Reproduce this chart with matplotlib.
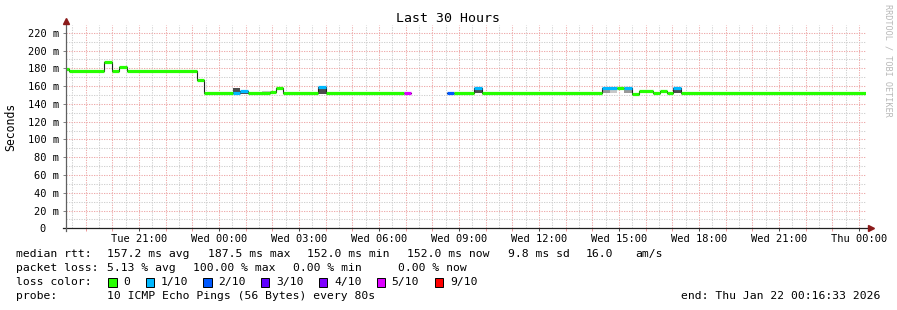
import numpy as np
import matplotlib
matplotlib.use("Agg")
import matplotlib.pyplot as plt
from matplotlib.patches import Rectangle

# time axis: hours since Tue 00:00, 30 hour window ending Thu 00:16:33
t_start = 18.276
t_end = 48.276

# median rtt (ms) as steps between edges, loss bucket per step (-1 = no data)
t_edges = [18.276, 18.386, 19.699, 19.976, 20.261, 20.539, 23.186, 23.449, 24.525,
           24.788, 25.088, 25.913, 26.126, 26.4, 27.724, 28.013, 30.938, 31.2,
           32.539, 32.813, 33.563, 33.844, 38.374, 38.925, 39.169, 39.476, 39.761,
           40.264, 40.538, 40.811, 41.036, 41.314, 48.276]
median_ms = [179, 177, 187.5, 177, 182, 177, 166.5, 152, 152, 154, 152, 153, 157.5,
             152, 158.7, 152, 152, np.nan, 152, 152, 157.3, 152, 158.3, 157.4, 158.3,
             151.5, 154.4, 152, 154, 152, 158.3, 152]
loss_idx = [0, 0, 0, 0, 0, 0, 0, 0, 1, 1, 0, 0, 0, 0, 1, 0, 5, -1, 2, 0, 1, 0, 1, 0, 1,
            0, 0, 0, 0, 0, 1, 0]

# smoke (spread of the individual pings)
smoke_t0 = [24.525, 24.788, 25.601, 27.724, 33.563, 38.374, 38.65, 39.169, 41.036]
smoke_t1 = [24.788, 25.088, 26.126, 28.013, 33.844, 38.65, 38.925, 39.476, 41.314]
smoke_lo = [152, 151.5, 152, 151, 152, 152.5, 152.5, 152.5, 152]
smoke_hi = [158, 153, 154.7, 157.5, 156, 157.5, 157.5, 157.5, 157]
smoke_shade = ['#4d4d4d', '#4d4d4d', '#c8c8c8', '#4d4d4d', '#4d4d4d', '#999999',
               '#c8c8c8', '#9a9a9a', '#4d4d4d']

loss_labels = ['0', '1/10', '2/10', '3/10', '4/10', '5/10', '9/10']
loss_colors = ['#26ff00', '#00b8ff', '#0059ff', '#5e00ff', '#7e00ff', '#dd00ff', '#ff0000']

x_major = [21, 24, 27, 30, 33, 36, 39, 42, 45, 48]
x_major_labels = ['Tue 21:00', 'Wed 00:00', 'Wed 03:00', 'Wed 06:00', 'Wed 09:00',
                  'Wed 12:00', 'Wed 15:00', 'Wed 18:00', 'Wed 21:00', 'Thu 00:00']
y_major = [0, 20, 40, 60, 80, 100, 120, 140, 160, 180, 200, 220]

stats_rtt = [('median rtt:', 16), ('157.2 ms avg', 107.3), ('187.5 ms max', 207.7),
             ('152.0 ms min', 306.7), ('152.0 ms now', 407.3), ('9.8 ms sd', 508.3),
             ('16.0', 586), ('am/s', 635)]
stats_loss = [('packet loss:', 16), ('5.13 % avg', 107.3), ('100.00 % max', 193.3),
              ('0.00 % min', 293.3), ('0.00 % now', 398.3)]
loss_box_x = [108.3, 145.7, 203.3, 261, 319, 376.7, 435]

W, H = 897, 310
MONO = 'DejaVu Sans Mono'
plt.rcParams['font.family'] = MONO

fig = plt.figure(figsize=(W / 100, H / 100), dpi=100, facecolor='white')
px_per_ms = 0.8889
ax_left, ax_bottom_px, ax_top_px = 66.4, 228.3, 25.0
ax = fig.add_axes([ax_left / W, (H - ax_bottom_px) / H, 800 / W,
                   (ax_bottom_px - ax_top_px) / H])
ax.set_xlim(t_start, t_end)
ax.set_ylim(0, (ax_bottom_px - ax_top_px) / px_per_ms)
for s in ax.spines.values():
    s.set_visible(False)

# grid
minor_c, major_c = '#d0d0d0', '#eeaaaa'
dots = (0, (1.2, 1.2))
for h in np.arange(18.5, t_end, 0.5):
    c = major_c if abs(h - round(h)) < 1e-6 else minor_c
    ax.axvline(h, color=c, lw=0.75, ls=dots, zorder=0)
for v in range(10, 230, 10):
    c = major_c if v % 20 == 0 else minor_c
    ax.axhline(v, color=c, lw=0.75, ls=dots, zorder=0)

# smoke
ax.bar(smoke_t0, np.array(smoke_hi) - np.array(smoke_lo),
       width=np.array(smoke_t1) - np.array(smoke_t0), bottom=smoke_lo,
       align='edge', color=smoke_shade, lw=0, zorder=2)

# thin median line then coloured loss bands
ax.step(t_edges, list(median_ms) + [median_ms[-1]], where='post',
        color='#202020', lw=0.8, zorder=3)
med = np.array(median_ms, dtype=float)
ok = ~np.isnan(med)
cols = [loss_colors[i] for i, k in zip(loss_idx, ok) if k]
ax.hlines(med[ok], np.array(t_edges[:-1])[ok], np.array(t_edges[1:])[ok],
          colors=cols, lw=2.3, zorder=4)

# ticks
ax.set_xticks(x_major, x_major_labels)
ax.set_xticks(range(19, 49), minor=True)
ax.tick_params(axis='x', which='major', length=2.5, width=0.7, color='#404040',
               pad=1.5, labelsize=7.5)
ax.tick_params(axis='x', which='minor', length=2, width=0.7, color='#ee9999')
ax.set_yticks(y_major, [f'{v} m' if v else '0  ' for v in y_major])
ax.tick_params(axis='y', length=2.5, width=0.7, color='#808080', pad=3,
               labelsize=7.5)

# axis lines with arrows
ax.plot([-0.004, 1.004], [0, 0], transform=ax.transAxes, color='#202020',
        lw=0.9, clip_on=False, zorder=5)
ax.plot([0, 0], [-0.012, 1.01], transform=ax.transAxes, color='#606060',
        lw=0.9, clip_on=False, zorder=5)
ax.plot([1.006], [0], marker='>', ms=4, color='#8b1a1a', transform=ax.transAxes,
        clip_on=False, zorder=6)
ax.plot([0], [1.02], marker='^', ms=4, color='#8b1a1a', transform=ax.transAxes,
        clip_on=False, zorder=6)

ax.set_ylabel('Seconds', fontsize=8.3, va='center')
ax.yaxis.set_label_coords(-(ax_left - 11) / 800, 0.5)


def fx(px):
    return px / W


def fy(py):
    return 1 - py / H


fig.text(fx(448), fy(19), 'Last 30 Hours', ha='center', va='center', fontsize=9.5)
fig.text(fx(888), fy(60), 'RRDTOOL / TOBI OETIKER', rotation=270, ha='center',
         va='center', fontsize=6.1, color='#b8b8b8')

fs = 8.2
for txt, x in stats_rtt:
    fig.text(fx(x), fy(254.3), txt, va='center', fontsize=fs)
for txt, x in stats_loss:
    fig.text(fx(x), fy(268.3), txt, va='center', fontsize=fs)
fig.text(fx(16), fy(282.3), 'loss color:', va='center', fontsize=fs)
for lbl, col, x in zip(loss_labels, loss_colors, loss_box_x):
    fig.patches.append(Rectangle((fx(x), fy(286.5)), 8.3 / W, 8.3 / H,
                                 transform=fig.transFigure, facecolor=col,
                                 edgecolor='black', lw=0.7))
    fig.text(fx(x + 15), fy(282.3), lbl, va='center', fontsize=fs)
fig.text(fx(16), fy(296), 'probe:', va='center', fontsize=fs)
fig.text(fx(107.3), fy(296), '10 ICMP Echo Pings (56 Bytes) every 80s', va='center',
         fontsize=fs)
fig.text(fx(880), fy(296), 'end: Thu Jan 22 00:16:33 2026', ha='right', va='center',
         fontsize=fs)

fig.savefig('out.png', dpi=100, facecolor='white')
